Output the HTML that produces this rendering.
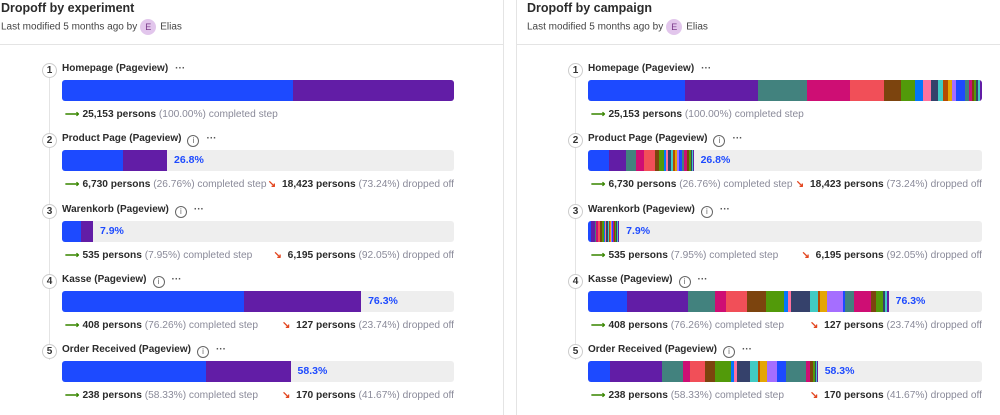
<!DOCTYPE html>
<html><head><meta charset="utf-8">
<style>
*{box-sizing:border-box;margin:0;padding:0}
body{width:1000px;height:415px;background:#fff;font-family:"Liberation Sans",sans-serif;color:#222;position:relative;overflow:hidden}
.abs{position:absolute}
.title{font-size:12.5px;font-weight:bold;color:#2b2b2b;top:1px;white-space:nowrap}
.sub{font-size:10px;color:#444;top:19px;white-space:nowrap}
.avatar{display:inline-block;width:16px;height:16px;border-radius:50%;background:#e2c6ec;color:#7a3a8a;font-size:9px;text-align:center;line-height:16px;margin:0 4px 0 3px;vertical-align:middle}
.circ{width:15px;height:15px;border-radius:50%;border:1px solid #ccc;background:#fff;font-size:10px;font-weight:bold;text-align:center;line-height:13px;color:#333}
.lbl{font-size:10px;font-weight:bold;color:#2b2b2b;white-space:nowrap}
.info{display:inline-block;width:12px;height:12px;border:1px solid #666;border-radius:50%;font-size:8px;line-height:10px;text-align:center;color:#666;font-weight:normal;margin-left:6px;vertical-align:-2px}
.dots{color:#555;margin-left:7px;font-weight:bold}
.track{background:#eeeeee;border-radius:3px;overflow:hidden;height:21px}
.pct{font-size:10.5px;font-weight:bold;color:#1d4aff}
.stat{font-size:10.2px;white-space:nowrap;color:#8a8a99}
.stat b{color:#2b2b2b}
.ga{color:#388600;font-weight:bold}
.ra{color:#e3461f;font-weight:bold}
</style></head><body>
<div class="abs" style="left:503px;top:0;width:1px;height:415px;background:#e4e4e4"></div>
<div class="abs" style="left:516px;top:0;width:1px;height:415px;background:#e4e4e4"></div>
<div class="abs" style="left:0;top:44px;width:503px;height:1px;background:#e4e4e4"></div>
<div class="abs" style="left:517px;top:44px;width:483px;height:1px;background:#e4e4e4"></div>

<div class="abs title" style="left:1px">Dropoff by experiment</div>
<div class="abs sub" style="left:1px">Last modified 5 months ago by<span class="avatar">E</span>Elias</div>
<div class="abs title" style="left:527px">Dropoff by campaign</div>
<div class="abs sub" style="left:527px">Last modified 5 months ago by<span class="avatar">E</span>Elias</div>

<div id="root"></div>
<script>
const stepNames=["Homepage (Pageview)","Product Page (Pageview)","Warenkorb (Pageview)","Kasse (Pageview)","Order Received (Pageview)"];
const stepPct=[100,26.8,7.9,76.3,58.3];
const completed=["25,153","6,730","535","408","238"];
const completedPct=["100.00%","26.76%","7.95%","76.26%","58.33%"];
const dropped=["","18,423","6,195","127","170"];
const droppedPct=["","73.24%","92.05%","23.74%","41.67%"];
const hasInfo=[false,true,true,true,true];
// experiment breakdown (share of step: variant A, variant B)
const expA=[59,58,60,61,63];
const expB=[41,42,40,39,37];
// campaign breakdown per step
const campColors=["#1d4aff","#621da6","#42827e","#ce0e74","#f14f58","#7c440e","#529a0a","#0476fb","#fe729e","#35416b","#41cbc4","#b64b02","#e4a604","#a56eff","#1d4aff","#42827e","#ce0e74","#7c440e","#529a0a","#35416b","#41cbc4","#621da6"];
const camp1=[95,72,48,42,33,17,13,8,8,7,5,5,4,4,8,4,3,2,2,2,2,2];
const camp2=[21,18,10,8,12,4,5,2,2,3,2,2,2,2,3,2,3,2,2,1,1,1];
const camp3=[3,4,2,2,2,2,2,1,1,2,1,1,1,1,1,1,1,1,1,1,1,1];
const camp4=[39,60,27,11,21,18,18,4,3,19,8,2,7,16,2,9,17,4,7,2,2,2];
const camp5=[22,52,21,7,15,10,16,3,3,13,7,2,7,10,9,20,4,3,2,1,1,1];
const campData=[camp1,camp2,camp3,camp4,camp5];

const root=document.getElementById('root');
function el(tag,cls,style,html){const e=document.createElement(tag);if(cls)e.className=cls;e.style.cssText=style;if(html!==undefined)e.innerHTML=html;root.appendChild(e);return e;}

function panel(ox,isCamp){
  const barX=ox+62, barW=isCamp?394:392;
  const line=el('div','abs','left:'+(ox+49)+'px;top:70px;width:1px;height:290px;background:#e4e4e4');
  
  
  for(let i=0;i<stepNames.length;i++){
    const y0=62+i*70.3;
    const c=el('div','abs circ','left:'+(ox+42)+'px;top:'+(y0+1)+'px',String(i+1));
    
    
    const l=el('div','abs lbl','left:'+barX+'px;top:'+(y0+1)+'px',stepNames[i]+(hasInfo[i]?'<span class="info">i</span>':'')+'<span class="dots">···</span>');
    
    
    const t=el('div','abs track','left:'+barX+'px;top:'+(y0+18)+'px;width:'+barW+'px');
    
    
    const fw=barW*stepPct[i]/100;
    let parts,cols;
    if(isCamp){parts=campData[i];cols=campColors;}else{parts=[expA[i],expB[i]];cols=["#1d4aff","#621da6"];}
    const sum=parts.reduce((a,b)=>a+b,0);
    let x=0;
    parts.forEach((v,k)=>{
      const w=fw*v/sum;
      const s=document.createElement('div');
      s.style.cssText='position:absolute;top:0;height:21px;left:'+x+'px;width:'+(w+0.3)+'px;background:'+cols[k];
      
      
      t.appendChild(s);x+=w;
    });
    if(i>0){
      const p=el('div','abs pct','left:'+(barX+fw+7)+'px;top:'+(y0+22)+'px',stepPct[i]+'%');
      
      
    }
    const st=el('div','abs stat','left:'+(barX+3)+'px;top:'+(y0+47)+'px','<span class="ga">⟶</span>&nbsp;<b>'+completed[i]+' persons</b> ('+completedPct[i]+') completed step');
    
    
    if(i>0){
      const d=el('div','abs stat','right:'+(1000-(barX+barW))+'px;top:'+(y0+47)+'px;text-align:right','<span class="ra">↘</span>&nbsp;&nbsp;<b>'+dropped[i]+' persons</b> ('+droppedPct[i]+') dropped off');
      
      
    }
  }
}
panel(0,false);
panel(526,true);
</script>
</body></html>
